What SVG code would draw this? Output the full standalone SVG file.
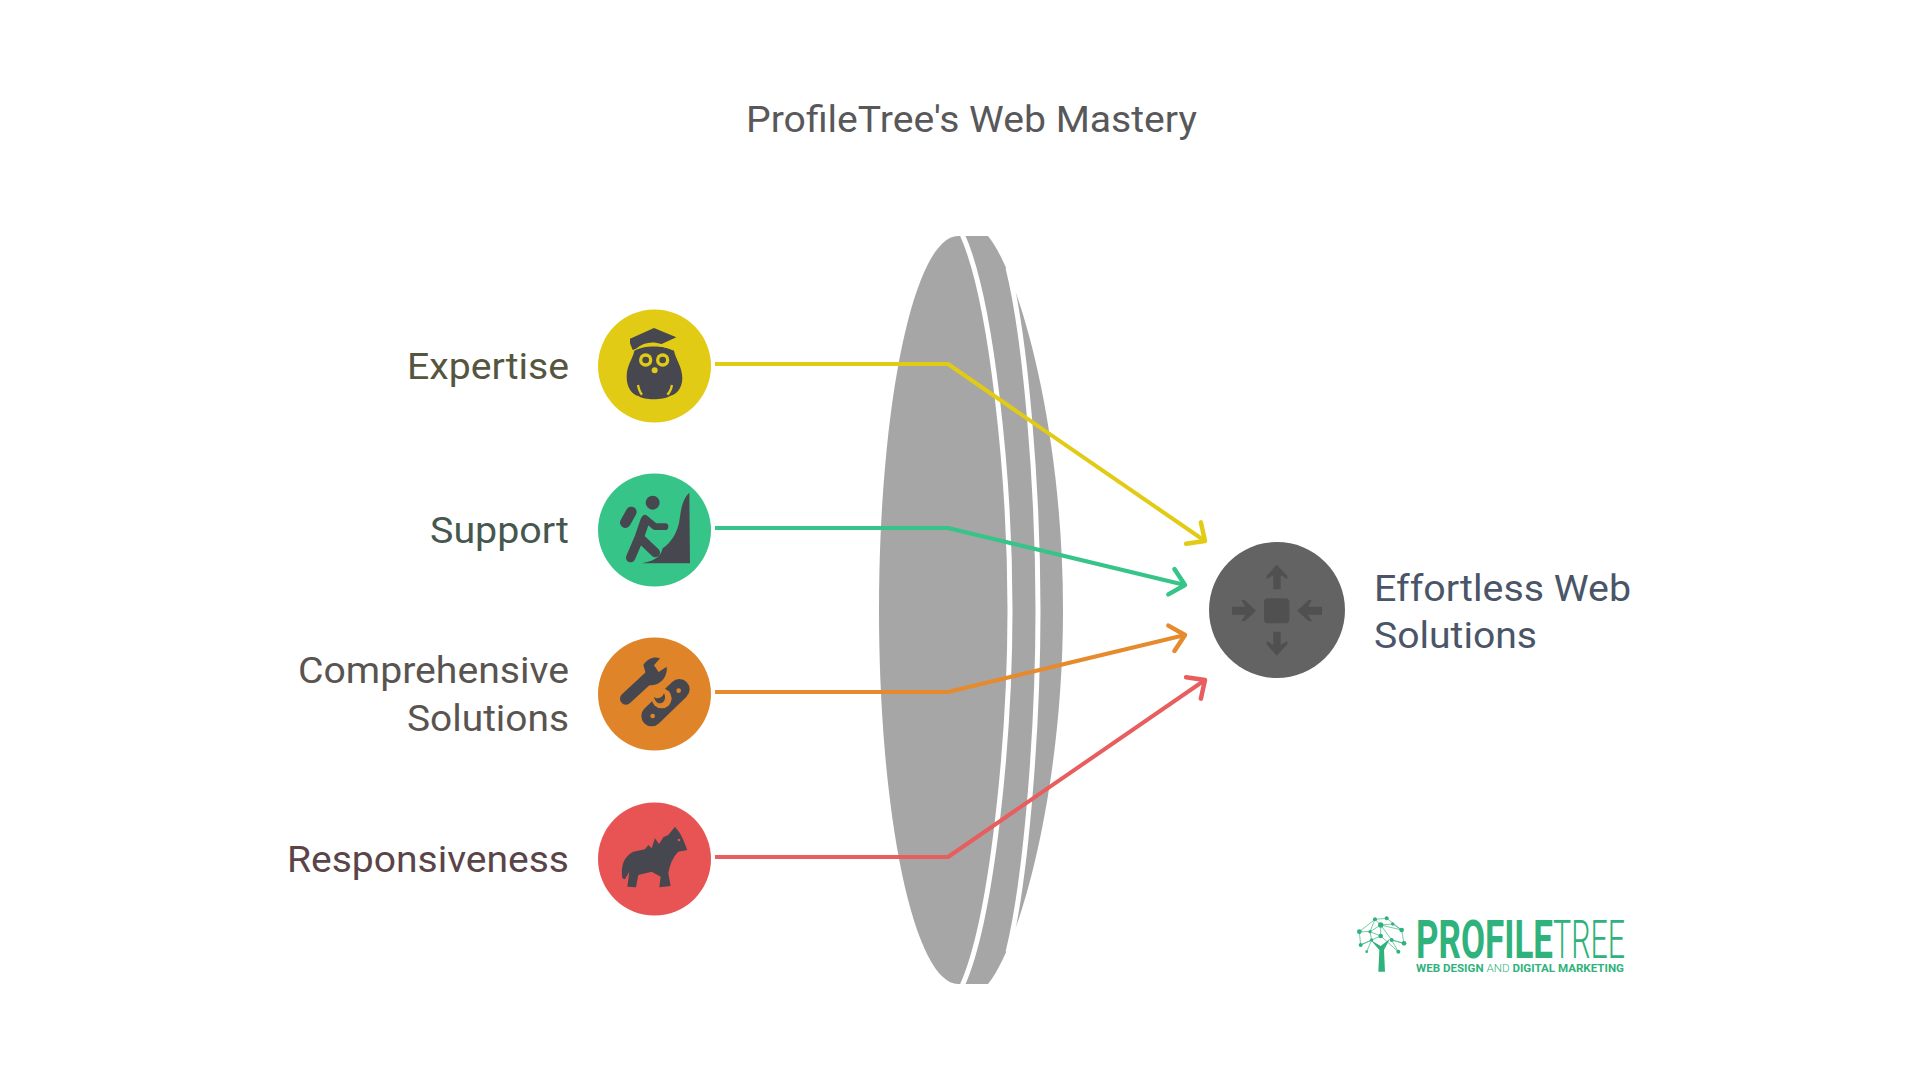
<svg xmlns="http://www.w3.org/2000/svg" width="1920" height="1080" viewBox="0 0 1920 1080">
<style>
text{font-family:Roboto,"Liberation Sans",sans-serif}
.t{font-size:36px}
.e{text-anchor:end}
.c{fill:none;stroke-width:4;stroke-linejoin:round}
.ic{fill:#47474f}
.ln{fill:none;stroke:#47474f;stroke-linecap:round;stroke-linejoin:round}
.lg{fill:#2fb27c}
.ll{stroke:#2fb27c;stroke-width:2;fill:none}
</style>
<defs>
<marker id="my" markerUnits="userSpaceOnUse" markerWidth="40" markerHeight="40" refX="20" refY="20" orient="auto" overflow="visible"><path d="M6 7L20 20L6 33" fill="none" stroke="#e2cb14" stroke-width="4.5" stroke-linecap="round" stroke-linejoin="round"/></marker>
<marker id="mg" markerUnits="userSpaceOnUse" markerWidth="40" markerHeight="40" refX="20" refY="20" orient="auto" overflow="visible"><path d="M6 7L20 20L6 33" fill="none" stroke="#37c488" stroke-width="4.5" stroke-linecap="round" stroke-linejoin="round"/></marker>
<marker id="mo" markerUnits="userSpaceOnUse" markerWidth="40" markerHeight="40" refX="20" refY="20" orient="auto" overflow="visible"><path d="M6 7L20 20L6 33" fill="none" stroke="#e68a2e" stroke-width="4.5" stroke-linecap="round" stroke-linejoin="round"/></marker>
<marker id="mr" markerUnits="userSpaceOnUse" markerWidth="40" markerHeight="40" refX="20" refY="20" orient="auto" overflow="visible"><path d="M6 7L20 20L6 33" fill="none" stroke="#e85d5d" stroke-width="4.5" stroke-linecap="round" stroke-linejoin="round"/></marker>
</defs>
<rect width="1920" height="1080" fill="#fff"/>
<text id="title" x="971.500" y="132" text-anchor="middle" font-size="36" fill="#58585a" textLength="451" lengthAdjust="spacingAndGlyphs">ProfileTree's Web Mastery</text>

<g id="lens">
<path d="M958 236A79 374 0 0 0 958 984L988 984C1020 945 1063 790 1063 610C1063 430 1020 275 988 236Z" fill="#a6a6a6"/>
<path d="M962 234C992 300 1010 480 1010 610C1010 740 992 920 962 986" fill="none" stroke="#fff" stroke-width="5"/>
<path d="M1008 268C1026 340 1038 490 1038 610C1038 730 1026 880 1008 952" fill="none" stroke="#fff" stroke-width="5"/>
</g>

<g id="connectors">
<path class="c" stroke="#e2cb14" marker-end="url(#my)" d="M715 364H948L1205 541"/>
<path class="c" stroke="#37c488" marker-end="url(#mg)" d="M715 528H948L1185 585"/>
<path class="c" stroke="#e68a2e" marker-end="url(#mo)" d="M715 692H948L1185 635"/>
<path class="c" stroke="#e85d5d" marker-end="url(#mr)" d="M715 857H948L1205 680"/>
</g>

<g id="expertise">
<text class="t e" x="569" y="379" fill="#56563f" textLength="162" lengthAdjust="spacingAndGlyphs">Expertise</text>
<circle cx="654.500" cy="366" r="56.500" fill="#e2cb14"/>
<g transform="translate(580 300) scale(.3333)">
<path class="ic" d="M163 152C190 135 255 135 282 152C287 178 307 200 307 235C307 267 287 285 270 288C250 300 195 302 175 288C155 283 140 262 140 230C140 195 158 178 163 152Z"/>
<path d="M158 150C190 128 240 130 280 148" fill="none" stroke="#e2cb14" stroke-width="6"/>
<path class="ic" d="M150 116L222 84L289 112L245 132C215 122 190 128 168 146L158 150L150 130Z"/>
<circle cx="197" cy="180" r="20" fill="#e2cb14"/><circle cx="197" cy="180" r="10" class="ic"/>
<circle cx="248" cy="180" r="20" fill="#e2cb14"/><circle cx="248" cy="180" r="10" class="ic"/>
<circle cx="224" cy="211" r="9" fill="#e2cb14"/>
<path d="M174 255C176 265 178 275 186 284M276 255C274 265 272 275 262 284" fill="none" stroke="#e2cb14" stroke-width="7"/>
</g>
</g>

<g id="support">
<text class="t e" x="569" y="543" fill="#46574f" textLength="139" lengthAdjust="spacingAndGlyphs">Support</text>
<circle cx="654.500" cy="530" r="56.500" fill="#37c488"/>
<g transform="translate(580 300) scale(.3333)">
<circle cx="218" cy="608" r="21" class="ic"/>
<path class="ln" stroke-width="32" d="M136 668L154 636"/>
<path class="ln" stroke-width="28" d="M195 662L178 712L152 773M178 712L226 758"/>
<path class="ln" stroke-width="20" d="M195 655L225 680L255 680"/>
<path class="ic" d="M328 578C315 590 305 610 300 650C295 700 270 730 248 745C242 775 215 785 185 790L330 790Z"/>
</g>
</g>

<g id="comprehensive">
<text class="t e" x="569" y="683" fill="#5a5450" textLength="271" lengthAdjust="spacingAndGlyphs">Comprehensive</text>
<text class="t e" x="569" y="731" fill="#5a5450" textLength="162" lengthAdjust="spacingAndGlyphs">Solutions</text>
<circle cx="654.500" cy="694" r="56.500" fill="#e0842a"/>
<g transform="translate(580 630) scale(.3333)">
<path class="ln" stroke-width="36" d="M138 206L215 135"/>
<path class="ic" d="M190 105C205 82 225 80 240 85L222 106L236 126L260 110C264 142 238 168 208 166Z"/>
<path class="ln" stroke-width="62" d="M298 178L215 258"/>
<circle cx="245" cy="205" r="30" fill="#e0842a"/>
<path class="ic" d="M222 200C232 208 245 206 252 190C260 205 252 220 240 220C230 220 224 210 222 200Z"/>
<circle cx="296" cy="182" r="7" fill="#e0842a"/><circle cx="218" cy="258" r="7" fill="#e0842a"/>
</g>
</g>

<g id="responsiveness">
<text class="t e" x="569" y="872" fill="#5a4448" textLength="282" lengthAdjust="spacingAndGlyphs">Responsiveness</text>
<circle cx="654.500" cy="859" r="56.500" fill="#e85454"/>
<g transform="translate(580 630) scale(.3333)">
<path class="ic" d="M127 745C122 710 130 680 160 665L195 658L205 645L215 655L225 625L237 642L250 622L265 615L285 590L300 610L310 630L322 660L295 665C280 680 270 700 265 730L272 768L238 772L242 740L215 725L175 735L168 772L142 770L148 725L135 748Z"/>
<circle cx="297" cy="630" r="4" fill="#e85454"/>
</g>
</g>

<g id="effortless">
<circle cx="1277" cy="610" r="68" fill="#636363"/>
<g transform="translate(1150 500) scale(.3333)" fill="#505050">
<rect x="342" y="295" width="76" height="75" rx="12"/>
<path d="M380 194L412 228L412 238L392 226V268H370V226L350 238V228Z"/>
<path d="M380 467L412 433V423L392 435V395H370V435L350 423V433Z"/>
<path d="M318 332L284 300H274L286 320H246V344H286L274 364H284Z"/>
<path d="M442 332L476 300H486L474 320H516V344H474L486 364H476Z"/>
</g>
<text class="t" x="1374" y="601" fill="#4a5568" textLength="257" lengthAdjust="spacingAndGlyphs">Effortless Web</text>
<text class="t" x="1374" y="648" fill="#4a5568" textLength="163" lengthAdjust="spacingAndGlyphs">Solutions</text>
</g>

<g id="logo">
<g transform="translate(1340 900) scale(.3333)">
<path class="lg" d="M115 215L118 150L92 120L122 138L150 116L132 150L135 215Z"/>
<path class="ll" d="M58 95L105 58L140 55L185 90L192 130L155 120L175 155L122 108L62 135L58 95M105 58L122 75L158 72L185 90M90 95L122 75L155 120M62 135L95 120L90 95L122 108M122 75L122 108M105 58L90 95M58 95L90 95M122 75L185 90M95 120L80 155M155 120L192 130"/>
<g class="lg"><circle cx="58" cy="95" r="7"/><circle cx="105" cy="58" r="6"/><circle cx="140" cy="55" r="6"/><circle cx="185" cy="90" r="7"/><circle cx="192" cy="130" r="7"/><circle cx="155" cy="120" r="6"/><circle cx="175" cy="155" r="6"/><circle cx="122" cy="108" r="7"/><circle cx="62" cy="135" r="6"/><circle cx="122" cy="75" r="8"/><circle cx="158" cy="72" r="5"/><circle cx="90" cy="95" r="5"/><circle cx="95" cy="120" r="5"/><circle cx="80" cy="155" r="4"/></g>
</g>
<text x="1416" y="958" font-size="53" font-weight="700" fill="#2fb27c" textLength="137" lengthAdjust="spacingAndGlyphs">PROFILE</text>
<text x="1553" y="958" font-size="53" font-weight="300" fill="#2fb27c" textLength="72" lengthAdjust="spacingAndGlyphs">TREE</text>
<text x="1416" y="972" font-size="11" font-weight="700" fill="#2fb27c" textLength="208" lengthAdjust="spacingAndGlyphs">WEB DESIGN <tspan font-weight="300">AND</tspan> DIGITAL MARKETING</text>
</g>
</svg>
